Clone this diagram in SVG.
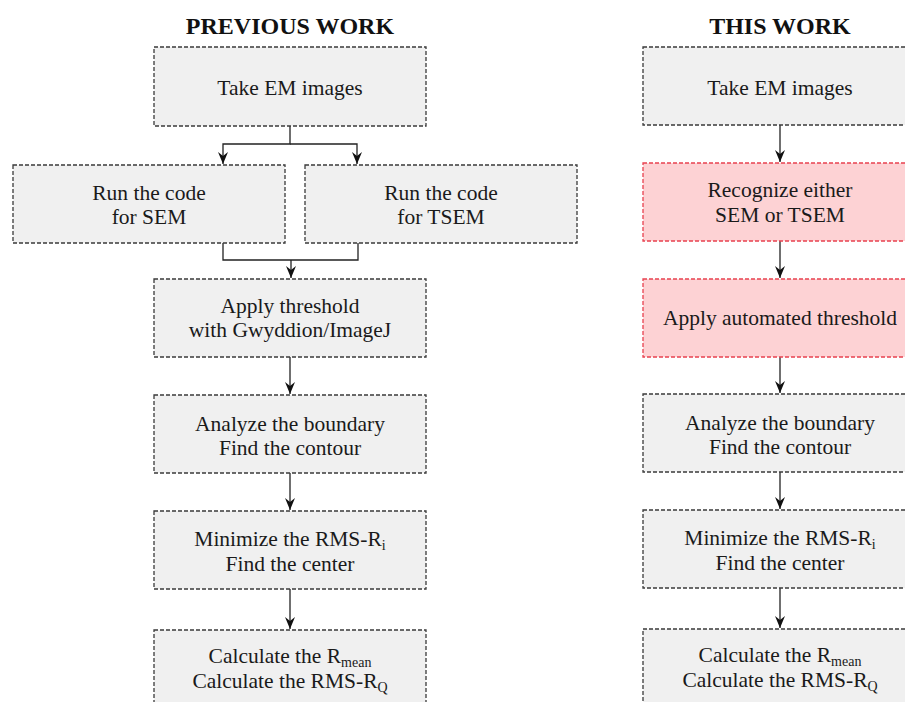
<svg xmlns="http://www.w3.org/2000/svg" width="905" height="702" viewBox="0 0 905 702">
<style>
.box{fill:#f0f0f0;stroke:#3a3a3a;stroke-width:1.3;stroke-dasharray:4 2}
.red{fill:#fdd2d4;stroke:#e8414f;stroke-width:1.3;stroke-dasharray:4 2}
.t{font-family:'Liberation Serif',serif;font-size:21.5px;fill:#1a1a1a;text-anchor:middle}
.title{font-family:'Liberation Serif',serif;font-size:24px;font-weight:bold;fill:#111;text-anchor:middle}
.sub{font-size:14px}
.c{fill:none;stroke:#222;stroke-width:1.3}
</style>
<defs>
<marker id="ah" viewBox="0 0 12 12" refX="12" refY="6" markerWidth="12" markerHeight="12" markerUnits="userSpaceOnUse" orient="auto">
<path d="M0,1 L12,6 L0,11 L4,6 Z" fill="#111"/>
</marker>
</defs>
<rect width="905" height="702" fill="#ffffff"/>
<text class="title" x="290" y="34" font-family="Liberation Serif">PREVIOUS WORK</text>
<text class="title" x="780" y="34" font-family="Liberation Serif">THIS WORK</text>

<g id="connectors">
<path class="c" d="M290,126 V144 H223 V164" marker-end="url(#ah)"/>
<path class="c" d="M290,144 H357 V164" marker-end="url(#ah)"/>
<path class="c" d="M223,243 V260 H358 V243"/>
<path class="c" d="M291,260 V278" marker-end="url(#ah)"/>
<path class="c" d="M290,357 V394" marker-end="url(#ah)"/>
<path class="c" d="M290,473 V510" marker-end="url(#ah)"/>
<path class="c" d="M290,589 V629" marker-end="url(#ah)"/>
<path class="c" d="M780,125 V162" marker-end="url(#ah)"/>
<path class="c" d="M780,241 V278" marker-end="url(#ah)"/>
<path class="c" d="M780,357 V393" marker-end="url(#ah)"/>
<path class="c" d="M780,472 V509" marker-end="url(#ah)"/>
<path class="c" d="M780,588 V628" marker-end="url(#ah)"/>
</g>

<g id="prev-take">
<rect class="box" x="154" y="47" width="272" height="79"/>
<text class="t" x="290" y="95">Take EM images</text>
</g>
<g id="prev-sem">
<rect class="box" x="13" y="165" width="272" height="78"/>
<text class="t" x="149" y="200">Run the code</text>
<text class="t" x="149" y="224">for SEM</text>
</g>
<g id="prev-tsem">
<rect class="box" x="305" y="165" width="272" height="78"/>
<text class="t" x="441" y="200">Run the code</text>
<text class="t" x="441" y="224">for TSEM</text>
</g>
<g id="prev-threshold">
<rect class="box" x="154" y="279" width="272" height="78"/>
<text class="t" x="290" y="313">Apply threshold</text>
<text class="t" x="290" y="337">with Gwyddion/ImageJ</text>
</g>
<g id="prev-analyze">
<rect class="box" x="154" y="395" width="272" height="78"/>
<text class="t" x="290" y="431">Analyze the boundary</text>
<text class="t" x="290" y="455">Find the contour</text>
</g>
<g id="prev-minimize">
<rect class="box" x="154" y="511" width="272" height="78"/>
<text class="t" x="290" y="546">Minimize the RMS-R<tspan class="sub" dy="4">i</tspan></text>
<text class="t" x="290" y="571">Find the center</text>
</g>
<g id="prev-calc">
<rect class="box" x="154" y="630" width="272" height="80"/>
<text class="t" x="290" y="663">Calculate the R<tspan class="sub" dy="4">mean</tspan></text>
<text class="t" x="290" y="688">Calculate the RMS-R<tspan class="sub" dy="4">Q</tspan></text>
</g>

<g id="this-take">
<rect class="box" x="643" y="47" width="274" height="78"/>
<text class="t" x="780" y="95">Take EM images</text>
</g>
<g id="this-recognize">
<rect class="red" x="643" y="163" width="274" height="78"/>
<text class="t" x="780" y="197">Recognize either</text>
<text class="t" x="780" y="222">SEM or TSEM</text>
</g>
<g id="this-threshold">
<rect class="red" x="643" y="279" width="274" height="78"/>
<text class="t" x="780" y="325">Apply automated threshold</text>
</g>
<g id="this-analyze">
<rect class="box" x="643" y="394" width="274" height="78"/>
<text class="t" x="780" y="430">Analyze the boundary</text>
<text class="t" x="780" y="454">Find the contour</text>
</g>
<g id="this-minimize">
<rect class="box" x="643" y="510" width="274" height="78"/>
<text class="t" x="780" y="545">Minimize the RMS-R<tspan class="sub" dy="4">i</tspan></text>
<text class="t" x="780" y="570">Find the center</text>
</g>
<g id="this-calc">
<rect class="box" x="643" y="629" width="274" height="80"/>
<text class="t" x="780" y="662">Calculate the R<tspan class="sub" dy="4">mean</tspan></text>
<text class="t" x="780" y="687">Calculate the RMS-R<tspan class="sub" dy="4">Q</tspan></text>
</g>
</svg>
